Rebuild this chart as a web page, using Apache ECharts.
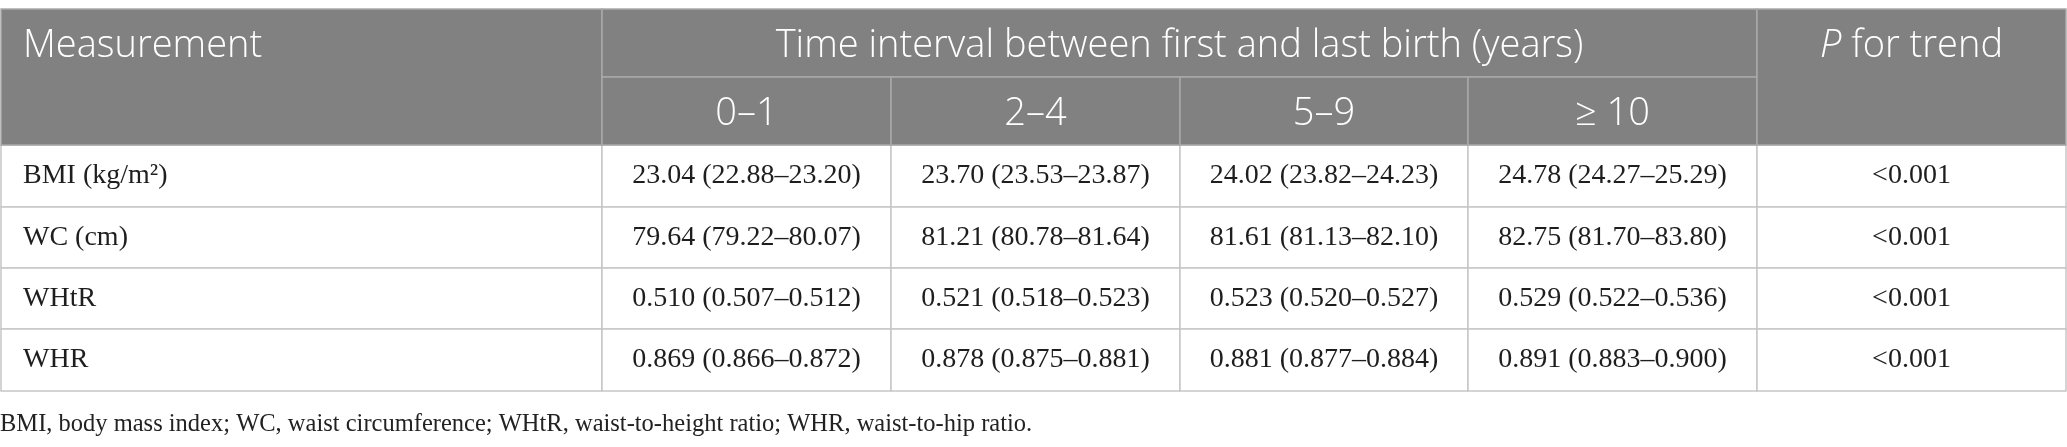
<!DOCTYPE html>
<html lang="en">

<head>
    <meta charset="UTF-8">
    <title>Table</title>
    <script src="https://cdn.jsdelivr.net/npm/echarts@6/dist/echarts.min.js"></script>
    <style>
        body { margin: 0; background: #fff; }
    </style>
</head>

<body>
    <div id="main" style="height:447px; width:2067px"></div>
    <script>
        // table text / values
        var firstHead = 'Measurement'
        var groupHead = 'Time interval between first and last birth (years)'
        var lastHead = '{i|P} for trend'
        var groups = ['0–1', '2–4', '5–9', '≥ 10']
        var measures = ['BMI (kg/m²)', 'WC (cm)', 'WHtR', 'WHR']
        var decimals = [2, 2, 3, 3]
        // [mean, low, high] per interval group
        var bmi = [[23.04, 22.88, 23.20], [23.70, 23.53, 23.87], [24.02, 23.82, 24.23], [24.78, 24.27, 25.29]]
        var wc = [[79.64, 79.22, 80.07], [81.21, 80.78, 81.64], [81.61, 81.13, 82.10], [82.75, 81.70, 83.80]]
        var whtr = [[0.510, 0.507, 0.512], [0.521, 0.518, 0.523], [0.523, 0.520, 0.527], [0.529, 0.522, 0.536]]
        var whr = [[0.869, 0.866, 0.872], [0.878, 0.875, 0.881], [0.881, 0.877, 0.884], [0.891, 0.883, 0.900]]
        var pTrend = ['<0.001', '<0.001', '<0.001', '<0.001']
        var footnote = 'BMI, body mass index; WC, waist circumference; WHtR, waist-to-height ratio; WHR, waist-to-hip ratio.'

        // layout (axis units = px)
        var xEdges = [1, 602, 891, 1180, 1468, 1757, 2066]
        var yEdges = [9, 77, 145, 207, 268, 329, 391]

        var rows = [bmi, wc, whtr, whr]
        var cells = []
        // body
        for (var j = 0; j < rows.length; j++) {
            cells.push({ c: 0, cs: 1, r: 2 + j, rs: 1, text: measures[j], head: false, left: true })
            for (var i = 0; i < groups.length; i++) {
                var v = rows[j][i]
                var d = decimals[j]
                var txt = v[0].toFixed(d) + ' (' + v[1].toFixed(d) + '–' + v[2].toFixed(d) + ')'
                cells.push({ c: 1 + i, cs: 1, r: 2 + j, rs: 1, text: txt, head: false })
            }
            cells.push({ c: 5, cs: 1, r: 2 + j, rs: 1, text: pTrend[j], head: false })
        }
        // header
        cells.push({ c: 0, cs: 1, r: 0, rs: 2, text: firstHead, head: true, left: true, top: true })
        cells.push({ c: 1, cs: 4, r: 0, rs: 1, text: groupHead, head: true })
        for (var i = 0; i < groups.length; i++) {
            cells.push({ c: 1 + i, cs: 1, r: 1, rs: 1, text: groups[i], head: true })
        }
        cells.push({ c: 5, cs: 1, r: 0, rs: 2, text: lastHead, head: true, top: true })

        var cellData = cells.map(function(c) {
            return [xEdges[c.c], yEdges[c.r], xEdges[c.c + c.cs], yEdges[c.r + c.rs], yEdges[c.r + 1]]
        })

        var headFont = '"Open Sans", "Noto Sans", sans-serif'
        var bodyFont = '"Liberation Serif", "DejaVu Serif", serif'

        var myCharts = echarts.init(document.getElementById('main'))
        var option = {
            animation: false,
            title: {
                text: footnote,
                left: 0,
                top: 412,
                padding: 0,
                textStyle: { fontFamily: bodyFont, fontSize: 24.5, fontWeight: 'normal', color: '#222' }
            },
            grid: { left: 0, right: 0, top: 0, bottom: 0 },
            xAxis: { type: 'value', min: 0, max: 2067, show: false },
            yAxis: { type: 'value', min: 0, max: 447, inverse: true, show: false },
            series: [{
                type: 'custom',
                clip: false,
                data: cellData,
                encode: { x: [0, 2], y: [1, 3] },
                renderItem: function(params, api) {
                    var c = cells[params.dataIndex]
                    var p0 = api.coord([api.value(0), api.value(1)])
                    var p1 = api.coord([api.value(2), api.value(3)])
                    var pm = api.coord([api.value(0), api.value(4)])
                    var cy = c.top ? (p0[1] + pm[1]) / 2 : (p0[1] + p1[1]) / 2
                    if (c.head) cy += 3
                    var tx = c.left ? p0[0] + 22 : (p0[0] + p1[0]) / 2
                    return {
                        type: 'group',
                        children: [{
                            type: 'rect',
                            shape: { x: p0[0], y: p0[1], width: p1[0] - p0[0], height: p1[1] - p0[1] },
                            style: {
                                fill: c.head ? '#808180' : '#fff',
                                stroke: c.head ? '#a9a9a9' : '#c6c6c6',
                                lineWidth: 1.5
                            }
                        }, {
                            type: 'text',
                            x: tx,
                            y: cy,
                            style: {
                                text: c.text,
                                fill: c.head ? '#fff' : '#1e1e1e',
                                font: c.head ? '300 38px ' + headFont : '28px ' + bodyFont,
                                align: c.left ? 'left' : 'center',
                                verticalAlign: 'middle',
                                rich: {
                                    i: { fontStyle: 'italic', fontFamily: headFont, fontSize: 38, fontWeight: 300, fill: '#fff' }
                                }
                            }
                        }]
                    }
                }
            }]
        }
        myCharts.setOption(option)
    </script>
</body>

</html>
